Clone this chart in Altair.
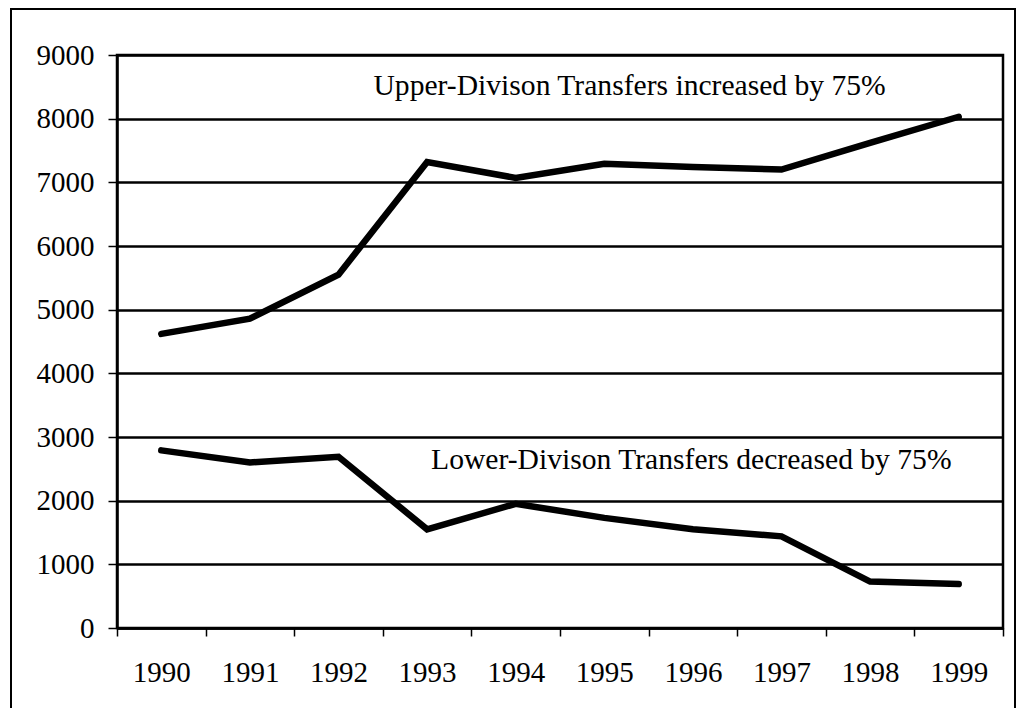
import altair as alt
import pandas as pd

years = ["1990", "1991", "1992", "1993", "1994", "1995", "1996", "1997", "1998", "1999"]
upper = [4620, 4860, 5550, 7320, 7070, 7290, 7240, 7200, 7620, 8030]
lower = [2790, 2600, 2690, 1550, 1950, 1730, 1550, 1440, 730, 690]
series_names = ["Upper-Division", "Lower-Division"]
y_ticks = [0, 1000, 2000, 3000, 4000, 5000, 6000, 7000, 8000, 9000]

ann_text = ["Upper-Divison Transfers increased by 75%", "Lower-Divison Transfers decreased by 75%"]
ann_year = ["1992", "1993"]
ann_value = [8520, 2640]

df = pd.DataFrame({
    "year": years + years,
    "value": upper + lower,
    "series": [series_names[0]] * len(years) + [series_names[1]] * len(years),
})

FONT = "Liberation Serif"

x_scale = alt.Scale(type="band", domain=years, paddingInner=0, paddingOuter=0)
y_scale = alt.Scale(domain=[0, 9000], nice=False, zero=True)

x_axis = alt.Axis(
    title=None, labelAngle=0, tickBand="extent", tickSize=8, tickWidth=1.5,
    tickColor="black", domainColor="black", domainWidth=2.5,
    labelFont=FONT, labelFontSize=29, labelColor="black",
    labelPadding=22, labelBaseline="top", grid=False,
)
y_axis = alt.Axis(
    title=None, values=y_ticks, format="d", tickSize=9, tickWidth=1.5, tickColor="black",
    domainColor="black", domainWidth=2.5, labelFont=FONT, labelFontSize=29,
    labelColor="black", labelPadding=14, grid=True, gridColor="black",
    gridWidth=2.5, gridOpacity=1,
)

lines = alt.Chart(df).mark_line(
    color="black", strokeWidth=6.5, strokeCap="round", strokeJoin="miter"
).encode(
    x=alt.X("year:N", scale=x_scale, axis=x_axis, bandPosition=0.5),
    y=alt.Y("value:Q", scale=y_scale, axis=y_axis),
    detail="series:N",
)

ann_up = pd.DataFrame({"year": [ann_year[0]], "value": [ann_value[0]], "text": [ann_text[0]]})
ann_lo = pd.DataFrame({"year": [ann_year[1]], "value": [ann_value[1]], "text": [ann_text[1]]})

def ann_layer(d, dx):
    return alt.Chart(d).mark_text(
        font=FONT, fontSize=29.6, color="black", align="left", baseline="middle", dx=dx
    ).encode(
        x=alt.X("year:N", scale=x_scale, axis=x_axis, bandPosition=0.5),
        y=alt.Y("value:Q", scale=y_scale, axis=y_axis),
        text="text:N",
    )

frame = alt.Chart(pd.DataFrame({"k": [0]})).mark_rect(
    fillOpacity=0, stroke="black", strokeWidth=2
).encode(
    x=alt.value(-106), x2=alt.value(898), y=alt.value(-46), y2=alt.value(700)
)

chart = alt.layer(
    lines, ann_layer(ann_up, 35), ann_layer(ann_lo, 4), frame
).properties(
    width=886, height=573,
    autosize=alt.AutoSizeParams(type="none"),
    padding={"left": 109, "top": 47, "right": 14, "bottom": 80},
    background="white",
).configure_view(
    stroke="black", strokeWidth=2.5
)

chart.save("out.html", embed_options={"renderer": "svg", "actions": False})
